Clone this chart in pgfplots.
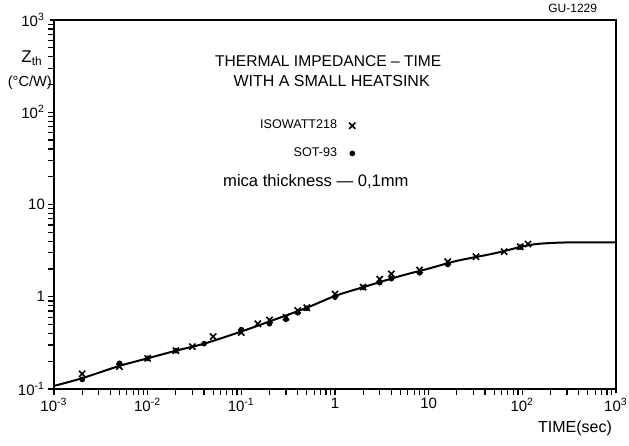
\documentclass[border=0pt]{standalone}
\usepackage{pgfplots}
\pgfplotsset{compat=1.18}
\usepackage{fontspec}
\setmainfont{Liberation Sans}
\begin{document}
\begin{tikzpicture}
\useasboundingbox (-27pt,-28.5pt) rectangle (287.5pt,194.5pt);
\begin{axis}[
  scale only axis, width=281pt, height=184.5pt,
  xmode=log, ymode=log,
  xmin=1e-3, xmax=1e3, ymin=1e-1, ymax=1e3,
  axis line style={line width=0.6pt},
  xtick={1e-3,1e-2,1e-1,1,10,100,1000},
  xticklabels={10\textsuperscript{-3},10\textsuperscript{-2},10\textsuperscript{-1},1,10,10\textsuperscript{2},10\textsuperscript{3}},
  ytick={1e-1,1,10,100,1000},
  yticklabels={10\textsuperscript{-1},1,10,10\textsuperscript{2},10\textsuperscript{3}},
  xtick pos=bottom, ytick pos=left,
  minor tick num=0, minor xtick={}, minor ytick={},
  tick align=outside, major tick length=2pt,
  tick style={black, line width=0.6pt},
  ticklabel style={font=\fontsize{7.5}{9}\selectfont},
  xticklabel style={yshift=1pt},
  yticklabel style={xshift=1pt},
  clip=false,
  legend style={at={(axis description cs:0.537,0.676)}, anchor=east, draw=none, fill=none,
    font=\fontsize{6.3}{7.5}\selectfont, row sep=4pt, inner sep=0pt,
    /tikz/every odd column/.append style={column sep=4pt}},
  legend cell align=right, legend plot pos=right,
]
\addplot[black, line width=1pt, smooth, tension=0.5, forget plot] coordinates {
 (1e-3,0.108) (2e-3,0.131) (5e-3,0.178) (1e-2,0.215) (2e-2,0.26) (4e-2,0.31)
 (0.1,0.42) (0.2,0.54) (0.5,0.76) (1,1.02) (2,1.27) (5,1.68) (10,2.02)
 (20,2.45) (50,2.95) (100,3.5) (150,3.75) (300,3.88) (1000,3.88)
};
\addplot[only marks, mark=x, mark size=2.2pt, line width=0.8pt, black] coordinates {
 (2e-3,0.146) (5e-3,0.175) (1e-2,0.215) (2e-2,0.26) (3e-2,0.288) (5e-2,0.37)
 (0.1,0.41) (0.15,0.51) (0.2,0.56) (0.3,0.6) (0.4,0.71) (0.5,0.76)
 (1,1.07) (2,1.27) (3,1.55) (4,1.77) (8,1.95) (16,2.4) (32,2.72) (64,3.08)
 (95,3.49) (115,3.73)
};
\addlegendentry{ISOWATT218}
\addplot[only marks, mark=*, mark size=1.2pt, black] coordinates {
 (2e-3,0.127) (5e-3,0.19) (1e-2,0.215) (2e-2,0.26) (4e-2,0.31) (0.1,0.44)
 (0.2,0.51) (0.3,0.57) (0.4,0.67) (0.5,0.75) (1,0.99) (2,1.26) (3,1.42)
 (4,1.57) (8,1.82) (16,2.24) (95,3.45)
};
\addlegendentry{SOT-93}
\node[font=\fontsize{7.8}{10}\selectfont] at (axis description cs:0.488,0.889) {THERMAL IMPEDANCE -- TIME};
\node[font=\fontsize{8}{10}\selectfont] at (axis description cs:0.494,0.835) {WITH A SMALL HEATSINK};
\node[font=\fontsize{8.3}{10}\selectfont] at (axis description cs:0.466,0.561) {mica thickness --- 0,1mm};
\node[font=\fontsize{6}{7}\selectfont] at (axis description cs:0.923,1.032) {GU-1229};
\node[font=\fontsize{8}{10}\selectfont] at (axis description cs:0.927,-0.106) {TIME(sec)};
\node[font=\fontsize{8.5}{10}\selectfont] at (axis description cs:-0.039,0.897) {Z\textsubscript{th}};
\node[font=\fontsize{7.3}{10}\selectfont] at (axis description cs:-0.043,0.829) {(°C/W)};
\end{axis}
\end{tikzpicture}
\end{document}
